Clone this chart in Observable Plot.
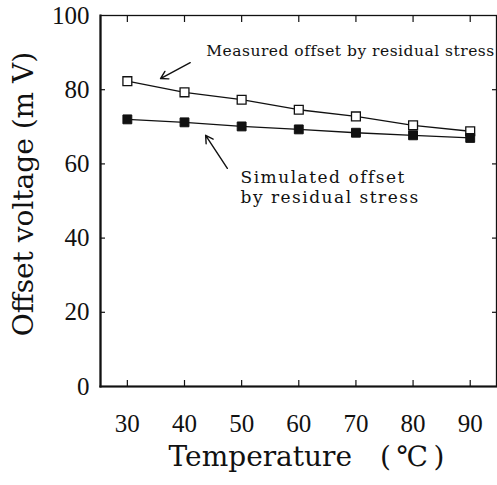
<!DOCTYPE html>
<html>
<head>
<meta charset="utf-8">
<script src="https://cdn.jsdelivr.net/npm/d3@7"></script>
<script src="https://cdn.jsdelivr.net/npm/@observablehq/plot@0.6"></script>
<style>
  html, body { margin: 0; padding: 0; background: #fff; }
</style>
</head>
<body>
<div id="chart"></div>
<script>
const temperatures = [30, 40, 50, 60, 70, 80, 90];
const measured = [82.3, 79.3, 77.3, 74.6, 72.8, 70.4, 68.8];
const simulated = [72.0, 71.2, 70.1, 69.3, 68.4, 67.7, 67.0];
const xTicks = [30, 40, 50, 60, 70, 80, 90];
const yTicks = [0, 20, 40, 60, 80, 100];
const xTitle = "Temperature\u2003(\u2009\u2103\u2009)";
const yTitle = "Offset voltage (m V)";
const measLabel = ["Measured offset by residual stress"];
const measLabelPos = [43.8, 90.4];
const simLabel = ["Simulated offset", "by residual stress"];
const simLabelX = [49.8, 49.8];
const simLabelY = [56.3, 50.9];
const arrowFrom = [[41.0, 87.3], [47.5, 58.8]];
const arrowTo = [[35.8, 83.0], [43.7, 67.7]];

const measRows = temperatures.map((t, i) => ({t, v: measured[i]}));
const simRows = temperatures.map((t, i) => ({t, v: simulated[i]}));
const simLabels = simLabel.map((s, i) => ({s, x: simLabelX[i], y: simLabelY[i]}));
const arrows = arrowFrom.map((a, i) => ({x1: a[0], y1: a[1], x2: arrowTo[i][0], y2: arrowTo[i][1]}));

const serif = "'Liberation Serif', 'Times New Roman', serif";
const wide = "'DejaVu Serif', serif";

const chart = Plot.plot({
  width: 497,
  height: 485,
  marginLeft: 100,
  marginRight: 1,
  marginTop: 15,
  marginBottom: 99,
  style: {fontFamily: serif, fontSize: "25px", color: "#111", background: "#fff"},
  x: {domain: [25.3, 94.6]},
  y: {domain: [0, 100]},
  marks: [
    Plot.frame({stroke: "#111", strokeWidth: 1.3}),
    Plot.frame({anchor: "left", stroke: "#111", strokeWidth: 2.2}),
    Plot.frame({anchor: "bottom", stroke: "#111", strokeWidth: 2.2}),
    Plot.axisX(xTicks, {anchor: "bottom", tickSize: 0, tickPadding: 28, fontSize: 25, fontFamily: serif, label: null}),
    Plot.axisX(xTicks, {anchor: "bottom", tickSize: -6, text: null, label: null, strokeWidth: 1.2}),
    Plot.axisX(xTicks, {anchor: "top", tickSize: -6, text: null, label: null, strokeWidth: 1.2}),
    Plot.axisY(yTicks, {anchor: "left", tickSize: 0, tickPadding: 11, fontSize: 25, fontFamily: serif, label: null}),
    Plot.axisY(yTicks.slice(1, 5), {anchor: "left", tickSize: -5, text: null, label: null, strokeWidth: 1.2}),
    Plot.axisY(yTicks.slice(1, 5), {anchor: "right", tickSize: -5, text: null, label: null, strokeWidth: 1.2}),
    Plot.line(measRows, {x: "t", y: "v", stroke: "#111", strokeWidth: 1.3}),
    Plot.line(simRows, {x: "t", y: "v", stroke: "#111", strokeWidth: 1.3}),
    Plot.dot(measRows, {x: "t", y: "v", symbol: "square", r: 5, fill: "#fff", stroke: "#111", strokeWidth: 1.3}),
    Plot.dot(simRows, {x: "t", y: "v", symbol: "square", r: 5, fill: "#111", stroke: "#111", strokeWidth: 1}),
    Plot.arrow(arrows, {x1: "x1", y1: "y1", x2: "x2", y2: "y2", stroke: "#111", strokeWidth: 1.4, headLength: 9}),
    Plot.text(measLabel, {x: () => measLabelPos[0], y: () => measLabelPos[1], text: d => d, textAnchor: "start", fontFamily: wide, fontSize: 15.5, fill: "#111"}),
    Plot.text(simLabels, {x: "x", y: "y", text: "s", textAnchor: "start", fontFamily: wide, fontSize: 17, fill: "#111"}),
    Plot.text([xTitle], {frameAnchor: "bottom", textAnchor: "middle", dx: 8, dy: 79, fontFamily: wide, fontSize: 28, fill: "#111"}),
    Plot.text([yTitle], {frameAnchor: "left", textAnchor: "middle", rotate: -90, dx: -76, dy: -7, fontFamily: wide, fontSize: 28, fill: "#111"})
  ]
});
d3.select(chart).selectAll("text").each(function() {
  const t = this.textContent;
  if (t === measLabel[0]) this.setAttribute("letter-spacing", "0.5");
  if (simLabel.includes(t)) this.setAttribute("letter-spacing", "1.5");
});
document.getElementById("chart").appendChild(chart);
</script>
</body>
</html>
